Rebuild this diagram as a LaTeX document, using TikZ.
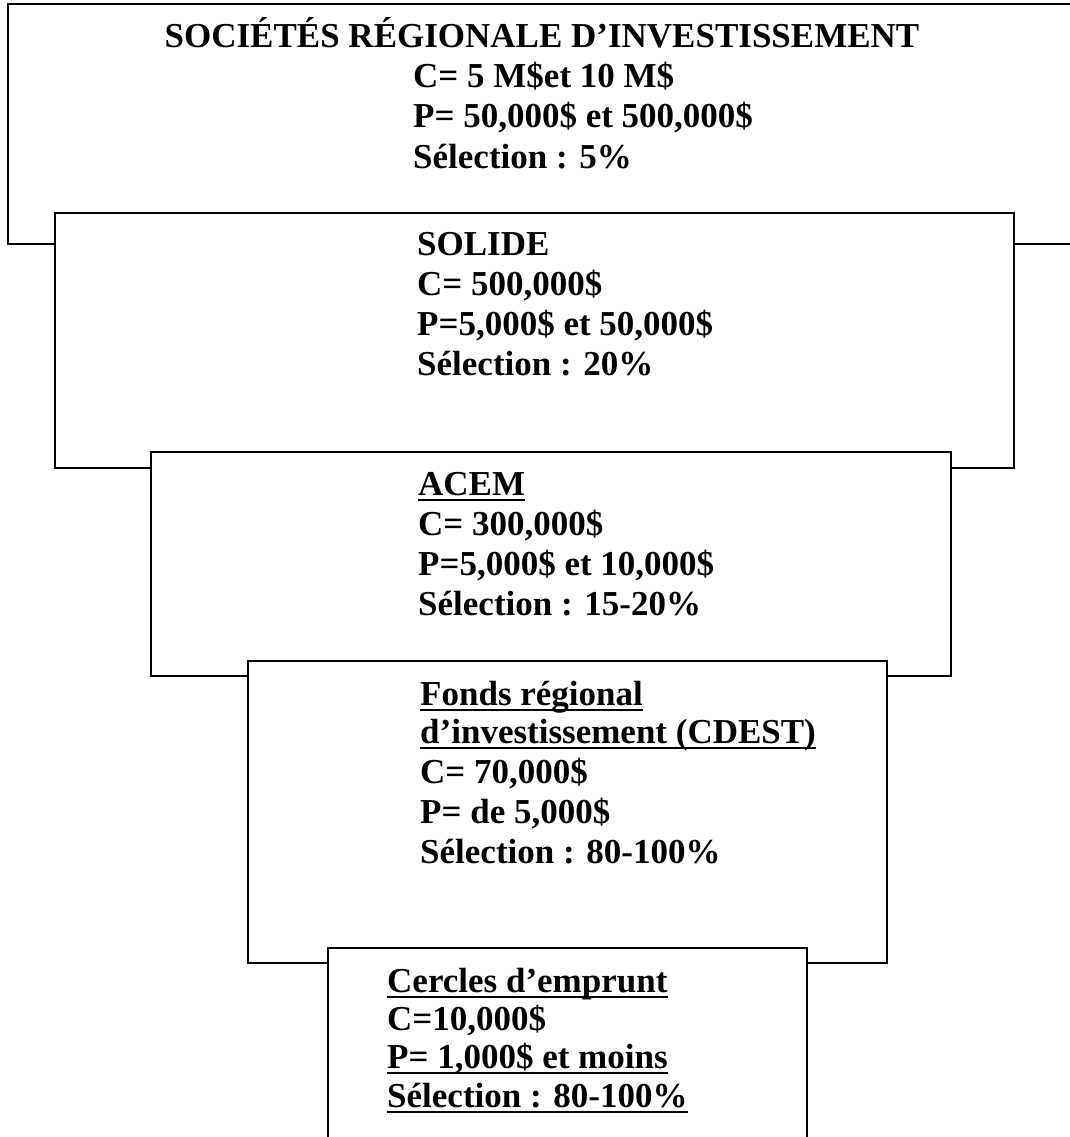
\documentclass[tikz,border=0pt]{standalone}
\usepackage{fontspec}
\setmainfont{Liberation Serif}
\usetikzlibrary{positioning}

\tikzset{
  tier/.style={draw=black,fill=white,line width=2pt},
  txt/.style={anchor=base west,inner sep=0pt,font=\bfseries\fontsize{35}{40}\selectfont},
  ulrule/.style={line width=2.6pt}
}

\begin{document}
\begin{tikzpicture}[x=1pt,y=-1pt]
\useasboundingbox (0,0) rectangle (1070,1137);
\clip (0,0) rectangle (1070,1137);

% top tier
\draw[tier] (8,4) rectangle (1100,244);
\node[txt,anchor=base] (sri) at (542,48) {SOCIÉTÉS RÉGIONALE D’INVESTISSEMENT};
\node[txt] (sriC) at (413,88) {C= 5 M\$et 10 M\$};
\node[txt] (sriP) at (413,128) {P= 50,000\$ et 500,000\$};
\node[txt] (sriS) at (413,168) {Sélection : 5\%};

% SOLIDE
\draw[tier] (55,213) rectangle (1014,468);
\node[txt] (sol) at (417,255) {SOLIDE};
\node[txt] (solC) at (417,295) {C= 500,000\$};
\node[txt] (solP) at (417,335) {P=5,000\$ et 50,000\$};
\node[txt] (solS) at (417,375) {Sélection : 20\%};

% ACEM
\draw[tier] (151,452) rectangle (951,676);
\node[txt] (acem) at (418,495) {ACEM};
\node[txt] (acemC) at (418,535) {C= 300,000\$};
\node[txt] (acemP) at (418,575) {P=5,000\$ et 10,000\$};
\node[txt] (acemS) at (418,615) {Sélection : 15-20\%};
\draw[ulrule] ([yshift=-5pt]acem.base west) -- ([yshift=-5pt]acem.base east);

% CDEST
\draw[tier] (248,661) rectangle (887,963);
\node[txt] (fri) at (420,705) {Fonds régional};
\node[txt] (friB) at (420,743) {d’investissement (CDEST)};
\node[txt] (friC) at (420,783) {C= 70,000\$};
\node[txt] (friP) at (420,823) {P= de 5,000\$};
\node[txt] (friS) at (420,863) {Sélection : 80-100\%};
\draw[ulrule] ([yshift=-5pt]fri.base west) -- ([yshift=-5pt]fri.base east);
\draw[ulrule] ([yshift=-5pt]friB.base west) -- ([yshift=-5pt]friB.base east);

% cercles
\draw[tier] (328,948) rectangle (807,1170);
\node[txt] (cer) at (387,992) {Cercles d’emprunt};
\node[txt] (cerC) at (387,1030) {C=10,000\$};
\node[txt] (cerP) at (387,1068) {P= 1,000\$ et moins};
\node[txt] (cerS) at (387,1107) {Sélection : 80-100\%};
\draw[ulrule] ([yshift=-5pt]cer.base west) -- ([yshift=-5pt]cer.base east);
\draw[ulrule] ([yshift=-5pt]cerP.base west) -- ([yshift=-5pt]cerP.base east);
\draw[ulrule] ([yshift=-5pt]cerS.base west) -- ([yshift=-5pt]cerS.base east);

\end{tikzpicture}
\end{document}
